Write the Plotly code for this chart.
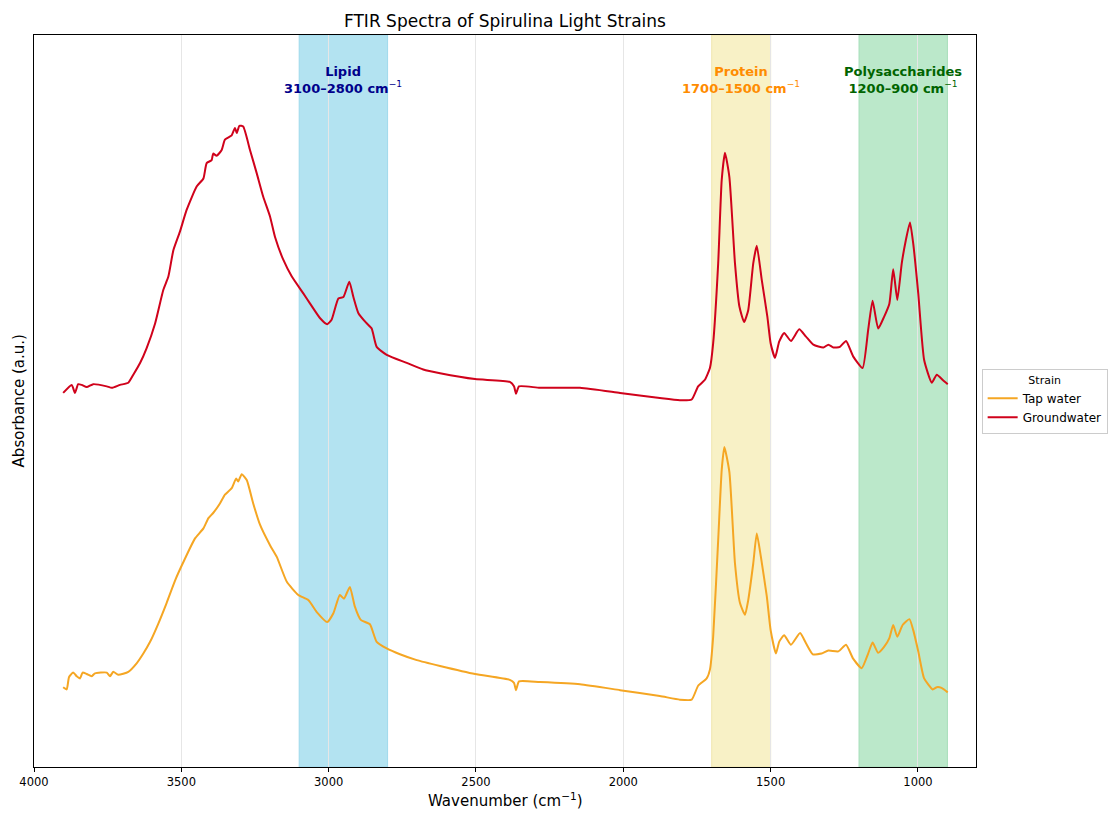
import plotly.graph_objects as go

# FTIR absorbance spectra (wavenumber in cm^-1, absorbance in a.u.)
groundwater_wn = [
    3901, 3872, 3861, 3850, 3838, 3821, 3799, 3753, 3736, 3708, 3680, 3663, 3640, 3618,
    3589, 3561, 3544, 3527, 3505, 3482, 3448, 3425, 3414, 3397, 3392, 3380, 3363, 3352,
    3329, 3318, 3312, 3303, 3290, 3267, 3244, 3222, 3199, 3182, 3154, 3125, 3086, 3063,
    3029, 3005, 2990, 2967, 2950, 2930, 2916, 2899, 2873, 2854, 2837, 2803, 2735, 2679,
    2622, 2503, 2385, 2371, 2364, 2354, 2283, 2147, 2011, 1876, 1808, 1768, 1746, 1723,
    1706, 1695, 1678, 1666, 1655, 1640, 1621, 1606, 1590, 1576, 1559, 1547, 1530, 1511,
    1500, 1485, 1471, 1454, 1431, 1403, 1380, 1355, 1321, 1304, 1287, 1265, 1244, 1220,
    1188, 1169, 1154, 1135, 1115, 1097, 1084, 1070, 1055, 1041, 1027, 1016, 999, 979,
    953, 936, 914, 899,
]
groundwater_abs = [
    0.511, 0.522, 0.511, 0.523, 0.522, 0.519, 0.523, 0.520, 0.518, 0.522, 0.525, 0.536, 0.552, 0.572,
    0.606, 0.652, 0.670, 0.706, 0.731, 0.761, 0.793, 0.804, 0.825, 0.829, 0.838, 0.835, 0.843, 0.857,
    0.863, 0.873, 0.866, 0.876, 0.875, 0.843, 0.811, 0.779, 0.752, 0.724, 0.693, 0.670, 0.647, 0.633,
    0.613, 0.605, 0.611, 0.640, 0.642, 0.663, 0.642, 0.620, 0.607, 0.599, 0.574, 0.563, 0.552, 0.543,
    0.538, 0.530, 0.526, 0.520, 0.510, 0.520, 0.518, 0.518, 0.511, 0.504, 0.501, 0.502, 0.520, 0.529,
    0.545, 0.579, 0.688, 0.802, 0.839, 0.806, 0.688, 0.629, 0.608, 0.624, 0.688, 0.712, 0.665, 0.615,
    0.579, 0.559, 0.581, 0.593, 0.582, 0.598, 0.588, 0.577, 0.573, 0.577, 0.573, 0.574, 0.582, 0.561,
    0.545, 0.597, 0.637, 0.599, 0.615, 0.633, 0.680, 0.638, 0.688, 0.720, 0.744, 0.715, 0.647, 0.556,
    0.525, 0.536, 0.528, 0.523,
]

tap_wn = [
    3901, 3889, 3881, 3867, 3855, 3844, 3835, 3821, 3804, 3793, 3753, 3742, 3731, 3714,
    3680, 3651, 3629, 3606, 3578, 3550, 3521, 3493, 3454, 3425, 3408, 3392, 3369, 3352,
    3329, 3314, 3307, 3295, 3278, 3256, 3233, 3199, 3176, 3142, 3103, 3069, 3041, 3005,
    2984, 2962, 2948, 2928, 2911, 2891, 2860, 2837, 2803, 2758, 2701, 2622, 2503, 2385,
    2371, 2364, 2354, 2283, 2147, 2011, 1876, 1808, 1768, 1746, 1717, 1706, 1695, 1678,
    1666, 1657, 1640, 1621, 1604, 1587, 1576, 1559, 1547, 1533, 1513, 1500, 1482, 1471,
    1454, 1431, 1400, 1380, 1357, 1327, 1304, 1270, 1244, 1220, 1191, 1169, 1154, 1135,
    1115, 1097, 1084, 1070, 1052, 1029, 1016, 999, 979, 950, 936, 920, 899,
]
tap_abs = [
    0.109, 0.106, 0.123, 0.129, 0.124, 0.121, 0.129, 0.127, 0.124, 0.128, 0.129, 0.124, 0.130, 0.126,
    0.130, 0.142, 0.155, 0.171, 0.196, 0.224, 0.255, 0.280, 0.312, 0.326, 0.340, 0.347, 0.360, 0.372,
    0.381, 0.394, 0.390, 0.400, 0.392, 0.360, 0.331, 0.303, 0.287, 0.253, 0.235, 0.228, 0.212, 0.198,
    0.210, 0.235, 0.230, 0.246, 0.219, 0.201, 0.195, 0.171, 0.162, 0.154, 0.146, 0.138, 0.127, 0.119,
    0.115, 0.105, 0.117, 0.116, 0.113, 0.105, 0.097, 0.092, 0.092, 0.111, 0.121, 0.133, 0.178, 0.310,
    0.406, 0.437, 0.403, 0.278, 0.224, 0.208, 0.228, 0.278, 0.319, 0.287, 0.233, 0.187, 0.155, 0.171,
    0.180, 0.167, 0.183, 0.169, 0.154, 0.155, 0.159, 0.158, 0.167, 0.148, 0.135, 0.155, 0.170, 0.156,
    0.164, 0.176, 0.194, 0.178, 0.194, 0.202, 0.187, 0.158, 0.121, 0.106, 0.109, 0.108, 0.102,
]

# Characteristic absorption regions
band_names = ["Lipid", "Protein", "Polysaccharides"]
band_hi = [3100, 1700, 1200]
band_lo = [2800, 1500, 900]
band_fill = ["#b3e3f1", "#f8f1c6", "#bbe8ca"]
band_edge = ["#9fd9ec", "#f0e6b0", "#a6dfba"]
band_text_color = ["#00008b", "#ff8c00", "#006400"]

x_ticks = [4000, 3500, 3000, 2500, 2000, 1500, 1000]

FONT = "DejaVu Sans, Verdana, sans-serif"

fig = go.Figure()

fig.add_trace(go.Scatter(
    x=tap_wn, y=tap_abs, mode="lines", name="Tap water",
    line=dict(color="#f5a623", width=2, shape="spline", smoothing=0.5),
))
fig.add_trace(go.Scatter(
    x=groundwater_wn, y=groundwater_abs, mode="lines", name="Groundwater",
    line=dict(color="#d0021b", width=2, shape="spline", smoothing=0.5),
))

for name, hi, lo, fill, edge, tc in zip(band_names, band_hi, band_lo, band_fill,
                                        band_edge, band_text_color):
    fig.add_shape(type="rect", xref="x", yref="paper", x0=hi, x1=lo, y0=0, y1=1,
                  fillcolor=fill, line=dict(color=edge, width=1), layer="below")
    fig.add_annotation(
        x=(hi + lo) / 2, xref="x", y=0.9385, yref="paper",
        text=f"<b>{name}<br>{hi}–{lo} cm</b><sup>−1</sup>",
        showarrow=False, font=dict(family=FONT, size=13, color=tc),
        align="center", xanchor="center", yanchor="middle",
    )

# Titles
fig.add_annotation(x=0.5, xref="paper", y=1.019, yref="paper", yanchor="middle",
                   text="FTIR Spectra of Spirulina Light Strains", showarrow=False,
                   font=dict(family=FONT, size=17, color="#000000"))
fig.add_annotation(x=0.5, xref="paper", y=-0.045, yref="paper", yanchor="middle",
                   text="Wavenumber (cm<sup>−1</sup>)", showarrow=False,
                   font=dict(family=FONT, size=15, color="#000000"))
fig.add_annotation(x=-0.0155, xref="paper", y=0.5, yref="paper", textangle=-90,
                   xanchor="center", yanchor="middle",
                   text="Absorbance (a.u.)", showarrow=False,
                   font=dict(family=FONT, size=15, color="#000000"))

fig.update_layout(
    width=1116, height=813,
    margin=dict(l=34, r=140, t=35, b=46, autoexpand=False),
    paper_bgcolor="white", plot_bgcolor="white",
    font=dict(family=FONT, size=11, color="#000000"),
    showlegend=True,
    legend=dict(
        title=dict(text="Strain", side="top center", font=dict(size=11)),
        x=1.006, xanchor="left", y=0.5, yanchor="middle",
        bordercolor="#cccccc", borderwidth=1, bgcolor="white",
        font=dict(family=FONT, size=12),
        tracegroupgap=0,
    ),
    xaxis=dict(
        range=[4000, 803], tickvals=x_ticks, ticktext=[str(t) for t in x_ticks],
        ticks="outside", ticklen=4, tickcolor="#000000",
        showgrid=True, gridcolor="#e6e6e6", gridwidth=1,
        showline=True, linecolor="#000000", linewidth=1, mirror=True,
        zeroline=False, tickfont=dict(size=11.5),
    ),
    yaxis=dict(
        range=[0, 1], showticklabels=False, ticks="", showgrid=False,
        showline=True, linecolor="#000000", linewidth=1, mirror=True,
        zeroline=False,
    ),
)

fig.write_html("out.html")
